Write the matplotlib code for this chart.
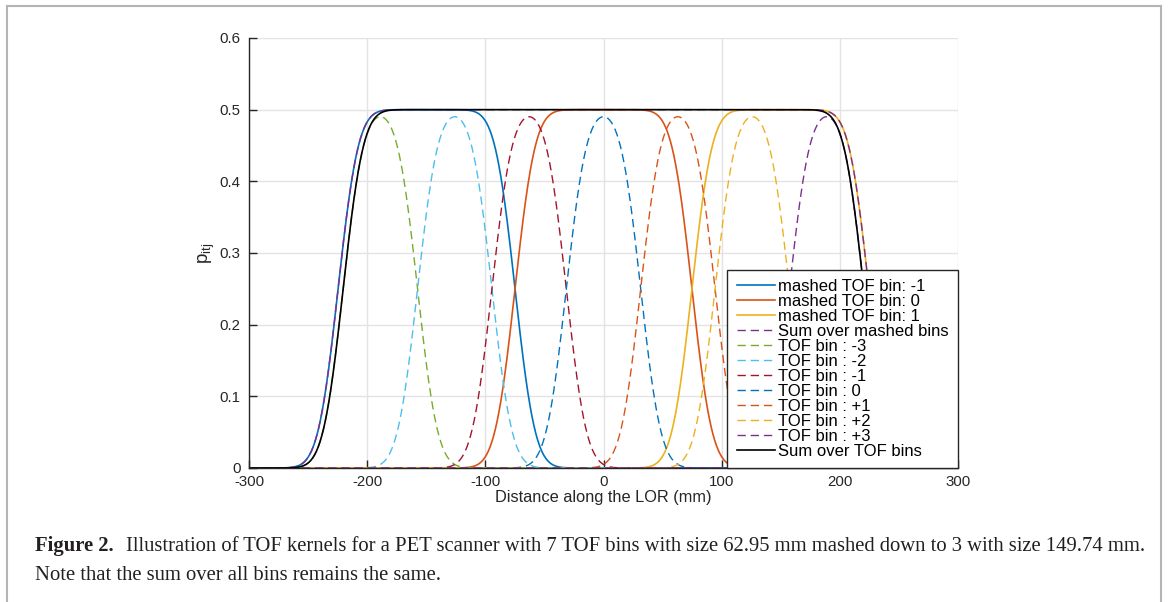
import math
import numpy as np
import matplotlib
matplotlib.use('Agg')
import matplotlib.pyplot as plt
from matplotlib.patches import Rectangle

# TOF setup: bin sizes (mm), bin indices and timing resolution (mm, 1 sigma)
tof_bin_size = 62.95
mashed_bin_size = 149.74
tof_bins = [-3, -2, -1, 0, 1, 2, 3]
mashed_bins = [-1, 0, 1]
timing_sigma = 13.5
plateau = 0.5

x_range = [-300, 300]
y_range = [0, 0.6]
x_ticks = [-300, -200, -100, 0, 100, 200, 300]
y_ticks = [0, 0.1, 0.2, 0.3, 0.4, 0.5, 0.6]

mashed_labels = ['mashed TOF bin: -1', 'mashed TOF bin: 0', 'mashed TOF bin: 1']
tof_labels = ['TOF bin : -3', 'TOF bin : -2', 'TOF bin : -1', 'TOF bin : 0',
              'TOF bin : +1', 'TOF bin : +2', 'TOF bin : +3']

# matlab default colour order
mashed_colors = ['#0072BD', '#D95319', '#EDB120']
tof_colors = ['#77AC30', '#4DBEEE', '#A2142F', '#0072BD', '#D95319', '#EDB120', '#7E2F8E']

plt.rcParams['font.family'] = ['Liberation Sans', 'DejaVu Sans']
plt.rcParams['mathtext.fontset'] = 'custom'
plt.rcParams['mathtext.rm'] = 'Liberation Sans'
plt.rcParams['mathtext.it'] = 'Liberation Sans'

erf = np.vectorize(math.erf)


def kernel(x, centre, width):
    # gaussian timing blur integrated over one bin
    s = timing_sigma * np.sqrt(2)
    return plateau * 0.5 * (erf((x - centre + width / 2) / s) - erf((x - centre - width / 2) / s))


x = np.linspace(x_range[0], x_range[1], 1201)

fig = plt.figure(figsize=(11.68, 6.02), dpi=100)
ax = fig.add_axes([0.2132, 0.2226, 0.607, 0.7143])

for b, c, lab in zip(mashed_bins, mashed_colors, mashed_labels):
    ax.plot(x, kernel(x, b * mashed_bin_size, mashed_bin_size), color=c, lw=1.2, label=lab)

mashed_sum = sum(kernel(x, b * mashed_bin_size, mashed_bin_size) for b in mashed_bins)
ax.plot(x, mashed_sum, '--', color='#7E2F8E', lw=1.0, dashes=(6, 3.5), label='Sum over mashed bins')

tof_sum = np.zeros_like(x)
for b, c, lab in zip(tof_bins, tof_colors, tof_labels):
    k = kernel(x, b * tof_bin_size, tof_bin_size)
    tof_sum += k
    ax.plot(x, k, '--', color=c, lw=1.0, dashes=(6, 3.5), label=lab)

ax.plot(x, tof_sum, color='black', lw=1.2, label='Sum over TOF bins')

ax.set_xlim(x_range)
ax.set_ylim(y_range)
ax.set_xticks(x_ticks)
ax.set_yticks(y_ticks)
ax.set_xticklabels([str(t) for t in x_ticks])
ax.set_yticklabels(['0'] + ['%.1f' % t for t in y_ticks[1:]])
ax.grid(True, color='#e3e3e3', lw=1.0)
ax.set_axisbelow(True)
for side in ['top', 'right']:
    ax.spines[side].set_visible(False)
for side in ['left', 'bottom']:
    ax.spines[side].set_color('#262626')
    ax.spines[side].set_linewidth(1.0)
ax.tick_params(direction='in', length=6, width=1.0, colors='#262626',
               labelsize=10.8, labelcolor='#262626')
ax.tick_params(axis='y', pad=6)
ax.tick_params(axis='x', pad=5)
ax.set_xlabel('Distance along the LOR (mm)', fontsize=11.8, color='#262626', labelpad=1)
ax.set_ylabel(r'$\mathregular{p_{itj}}$', fontsize=13.5, color='#262626', labelpad=2)

leg = ax.legend(loc='lower right', fontsize=12, frameon=True, fancybox=False,
                edgecolor='#262626', framealpha=1, borderpad=0.55,
                labelspacing=0.0, handlelength=2.3, handletextpad=0.2,
                borderaxespad=0)
leg.get_frame().set_linewidth(1.0)
for t in leg.get_texts():
    t.set_color('black')

# outer border of the figure panel
fig.patches.append(Rectangle((7 / 1168, -0.05), 1154 / 1168, 1.05 - 6 / 602,
                             transform=fig.transFigure, fill=False,
                             edgecolor='#b4b4b4', lw=1.5))

cap_y1 = 1 - 551 / 602
cap_y2 = 1 - 580 / 602
serif = 'Liberation Serif'
t1 = fig.text(35 / 1168, cap_y1, 'Figure 2.', fontsize=14.9, family=serif,
              fontweight='bold', va='baseline', color='#231f20')
fig.canvas.draw()
bb = t1.get_window_extent()
fig.text((bb.x1 + 12) / 1168, cap_y1,
         'Illustration of TOF kernels for a PET scanner with 7 TOF bins with size 62.95 mm '
         'mashed down to 3 with size 149.74 mm.',
         fontsize=14.9, family=serif, va='baseline', color='#231f20')
fig.text(35 / 1168, cap_y2, 'Note that the sum over all bins remains the same.',
         fontsize=14.9, family=serif, va='baseline', color='#231f20')

fig.savefig('out.png', dpi=100)
